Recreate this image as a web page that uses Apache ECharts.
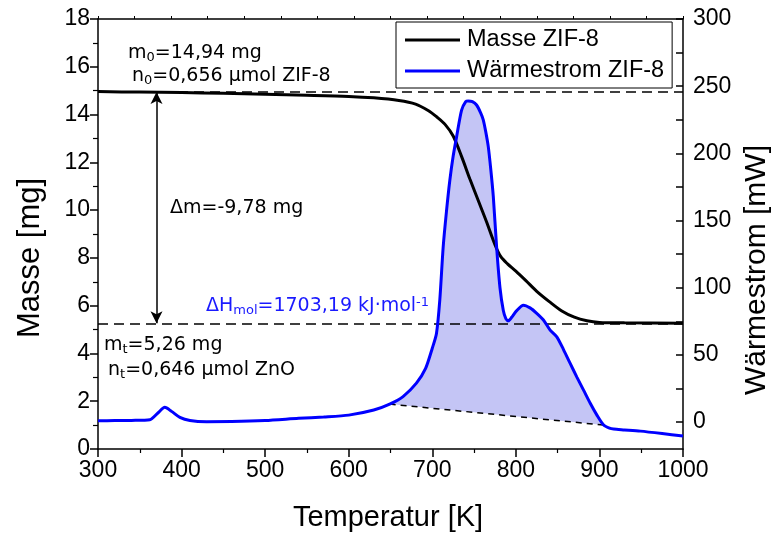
<!DOCTYPE html>
<html>
<head>
<meta charset="utf-8">
<script src="https://cdn.jsdelivr.net/npm/echarts@6/dist/echarts.min.js"></script>
<style>html,body{margin:0;padding:0;background:#fff;}#c{width:773px;height:535px;}</style>
</head>
<body>
<div id="c"></div>
<script>
// Mass curve (K, mg)
const massT = [300,350,400,450,500,550,600,630,660,680,695,705,715,725,735,745,755,765,775,782,790,800,812,825,840,855,870,885,900,930,1000];
const massV = [14.96,14.94,14.92,14.89,14.85,14.81,14.76,14.7,14.59,14.44,14.17,13.91,13.6,13.1,12.25,11.3,10.4,9.5,8.55,8.05,7.75,7.45,7.05,6.6,6.17,5.78,5.52,5.37,5.3,5.28,5.26];
// Heat flow curve (K, mW)
const heatT = [300,320,340,362,372,380,388,398,410,430,460,500,540,570,600,630,649,665,681,692,700,705,709,713,717,721,725,729,735,740,743,748,753,758,761,764,767,770,773,777,781,785,788,791,795,801,809,817,825,833,841,849,857,865,873,881,889,897,905,912,917,930,949,975,1000];
const heatV = [1,1.2,1.3,1.8,7,11,8,3.5,1.2,0.3,0.4,1.2,2.8,3.8,5.2,9,13.4,19,29,40,55,66,91,130,157,180,198,212,232,238.5,239,238.5,236,230,225,216,205,188,168,130,100,83,77,75.4,78,83,87,85,81,76,68.5,63.5,54,43.7,33.5,23.8,14,5.2,-2.2,-4.5,-5.2,-5.8,-6.7,-8.5,-10.4];
// Integration baseline (K, mW)
const baseT = [649, 905];
const baseV = [13.4, -2.2];
// Reference levels (mg)
const m0 = 14.94, mt = 5.26, arrowT = 370;
// Axis labels
const xTickLabels = [300,400,500,600,700,800,900,1000];
const yLeftLabels = [0,2,4,6,8,10,12,14,16,18];
const yRightLabels = [0,50,100,150,200,250,300];
const yRightTicks = [-25,0,25,50,75,100,125,150,175,200,225,250,275,300];
const topTicks = Array.from({length:17},(_,i)=>300+i*43.75);

const sansA = "'Liberation Sans', Arial, sans-serif";
const sansD = "'DejaVu Sans', Verdana, sans-serif";

const massData = massT.map((t,i)=>[t,massV[i]]);
const heatData = heatT.map((t,i)=>[t,heatV[i]]);
const baseData = baseT.map((t,i)=>[t,baseV[i]]);

const chart = echarts.init(document.getElementById('c'), null, {renderer:'canvas'});
const axisLineStyle = {color:'#000', width:1.5};

function mkRich(col){
  return {
    n:{fontSize:19, fontFamily:sansD, lineHeight:24, fill:col},
    sub:{fontSize:13, fontFamily:sansD, lineHeight:24, padding:[8,0,0,0], fill:col},
    sup:{fontSize:13, fontFamily:sansD, lineHeight:24, padding:[0,0,8,0], fill:col}
  };
}
const rich = mkRich('#000');
const richBlue = mkRich('#1a1aff');
function txt(x, y, text, r, col){
  return {type:'text', left:x, top:y, z:100, style:{text:text, rich:r||rich, fill:col||'#000', verticalAlign:'middle'}};
}
const plainNum = v => String(v);

chart.setOption({
  animation:false,
  backgroundColor:'#fff',
  grid:{left:98, right:90, top:19, bottom:86, containLabel:false},
  legend:{
    left:396, top:22, orient:'vertical', itemWidth:55, itemHeight:3, itemGap:7, icon:'rect',
    padding:[6,8,5,9], borderColor:'#000', borderWidth:1, borderRadius:0, backgroundColor:'#fff',
    textStyle:{fontFamily:sansA, fontSize:23.5, color:'#000', lineHeight:24, padding:[0,0,0,2]},
    data:['Masse ZIF-8','Wärmestrom ZIF-8']
  },
  xAxis:[{
    type:'value', position:'bottom', min:300, max:1000, interval:100,
    axisLine:{onZero:false, lineStyle:axisLineStyle},
    axisTick:{show:true, inside:false, length:8, lineStyle:axisLineStyle},
    minorTick:{show:true, splitNumber:2, length:4, lineStyle:{color:'#000', width:1.2}},
    axisLabel:{fontFamily:sansA, fontSize:23, color:'#000', margin:10,
      customValues:xTickLabels, formatter:plainNum},
    splitLine:{show:false}
  },{
    type:'value', position:'top', min:300, max:1000,
    axisLine:{onZero:false, lineStyle:axisLineStyle},
    axisTick:{show:true, inside:false, length:3, customValues:topTicks, lineStyle:{color:'#000', width:1}},
    axisLabel:{show:false},
    splitLine:{show:false}
  }],
  yAxis:[{
    type:'value', position:'left', min:0, max:18, interval:2,
    axisLine:{show:true, onZero:false, lineStyle:axisLineStyle},
    axisTick:{show:true, inside:false, length:8, lineStyle:axisLineStyle},
    minorTick:{show:true, splitNumber:2, length:5, lineStyle:{color:'#000', width:1.2}},
    axisLabel:{fontFamily:sansA, fontSize:23, color:'#000', margin:8, customValues:yLeftLabels, formatter:plainNum},
    splitLine:{show:false}
  },{
    type:'value', position:'right', min:-20, max:300,
    axisLine:{show:true, onZero:false, lineStyle:axisLineStyle},
    axisTick:{show:true, inside:true, length:7, customValues:yRightTicks, lineStyle:axisLineStyle},
    axisLabel:{fontFamily:sansA, fontSize:23, color:'#000', margin:10, customValues:yRightLabels, formatter:plainNum},
    splitLine:{show:false}
  }],
  series:[{
    type:'custom', name:'fill', xAxisIndex:0, yAxisIndex:1, z:1, silent:true,
    data:[baseData[0]],
    renderItem:function(params, api){
      const pts = [];
      for (let i=0;i<heatT.length;i++){
        if (heatT[i]>=baseT[0] && heatT[i]<=baseT[1]) pts.push(api.coord([heatT[i], heatV[i]]));
      }
      pts.push(api.coord([baseT[1], baseV[1]]));
      pts.push(api.coord([baseT[0], baseV[0]]));
      return {type:'polygon', shape:{points:pts}, style:{fill:'#c4c5f5', stroke:null}};
    }
  },{
    type:'line', name:'baseline', xAxisIndex:0, yAxisIndex:1, z:3, data:baseData,
    symbol:'none', lineStyle:{color:'#000', width:1.5, type:[6,5]}, silent:true
  },{
    type:'line', name:'Masse ZIF-8', xAxisIndex:0, yAxisIndex:0, z:5, data:massData,
    symbol:'none', smooth:0.3, lineStyle:{color:'#000', width:3}, itemStyle:{color:'#000'},
    markLine:{
      silent:true, symbol:['none','none'], label:{show:false},
      lineStyle:{color:'#000', width:1.5, type:[10,6]},
      data:[{yAxis:m0},{yAxis:mt},
        [{coord:[arrowT,m0], symbol:'arrow', lineStyle:{type:'solid', width:1.5}},
         {coord:[arrowT,mt], symbol:'arrow'}]
      ],
      symbolSize:[9,12]
    }
  },{
    type:'line', name:'Wärmestrom ZIF-8', xAxisIndex:0, yAxisIndex:1, z:6, data:heatData,
    symbol:'none', smooth:0.25, lineStyle:{color:'#0000ff', width:3}, itemStyle:{color:'#0000ff'}
  }],
  graphic:[
    txt(128, 43, '{n|m}{sub|0}{n|=14,94 mg}'),
    txt(132, 66, '{n|n}{sub|0}{n|=0,656 µmol ZIF-8}'),
    txt(170, 199, '{n|Δm=-9,78 mg}'),
    txt(206, 296, '{n|ΔH}{sub|mol}{n|=1703,19 kJ·mol}{sup|-1}', richBlue, '#1a1aff'),
    txt(104, 335, '{n|m}{sub|t}{n|=5,26 mg}'),
    txt(108, 360, '{n|n}{sub|t}{n|=0,646 µmol ZnO}'),
    {type:'text', x:30, y:258, rotation:Math.PI/2, style:{text:'Masse [mg]', fontFamily:sansA, fontSize:31, fill:'#000', align:'center', verticalAlign:'middle'}},
    {type:'text', x:757, y:270, rotation:Math.PI/2, style:{text:'Wärmestrom [mW]', fontFamily:sansA, fontSize:30, fill:'#000', align:'center', verticalAlign:'middle'}},
    {type:'text', x:388, y:518, style:{text:'Temperatur [K]', fontFamily:sansA, fontSize:29, fill:'#000', align:'center', verticalAlign:'middle'}}
  ]
});
</script>
</body>
</html>
